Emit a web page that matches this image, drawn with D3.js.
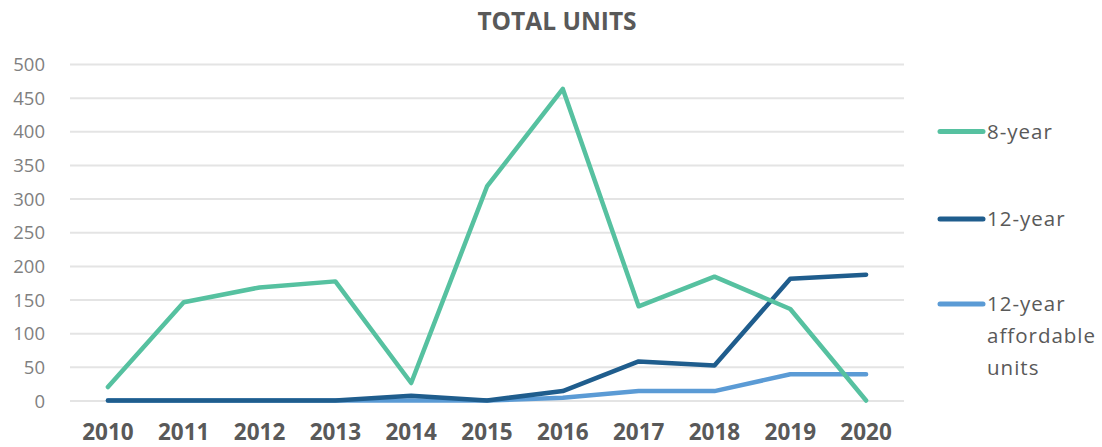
<!DOCTYPE html>
<html>
<head>
  <meta charset="utf-8">
  <title>Total units</title>
  <script src="https://cdn.jsdelivr.net/npm/d3@7"></script>
  <style>
    body { margin: 0; background: #fff; font-family: "Open Sans", sans-serif; }
    svg text { font-family: "Open Sans", sans-serif; }
    .grid line { stroke: #e4e4e4; stroke-width: 2px; }
    .grid path { display: none; }
    .axis path, .axis line { display: none; }
    .axis--y text { fill: #808080; font-size: 18.5px; }
    .axis--x text { fill: #595959; font-size: 22.5px; font-weight: 700; }
    .series { fill: none; stroke-width: 4.5px; stroke-linejoin: round; stroke-linecap: round; }
  </style>
</head>
<body>
<svg width="1102" height="447"></svg>
<script>

var years = ["2010", "2011", "2012", "2013", "2014", "2015", "2016", "2017", "2018", "2019", "2020"];
var eightYear = [20, 146, 168, 177, 26, 318, 463, 140, 184, 136, 0];
var twelveYear = [0, 0, 0, 0, 7, 0, 14, 58, 52, 181, 187];
var twelveYearAffordable = [0, 0, 0, 0, 0, 0, 4, 14, 14, 39, 39];
var yTicks = [0, 50, 100, 150, 200, 250, 300, 350, 400, 450, 500];

var seriesNames = ["8-year", "12-year", "12-year affordable units"];
var seriesColors = ["#56c1a0", "#1f5d8d", "#5b9bd5"];

var svg = d3.select("svg"),
    margin = {top: 64, right: 198, bottom: 46.5, left: 70},
    width = +svg.attr("width") - margin.left - margin.right,
    height = +svg.attr("height") - margin.top - margin.bottom;

var x = d3.scaleBand().domain(years).range([0, width]),
    y = d3.scaleLinear().domain([0, 500]).range([height, 0]);

var g = svg.append("g")
    .attr("transform", "translate(" + margin.left + "," + margin.top + ")");

svg.append("text")
    .attr("x", 557)
    .attr("y", 29.5)
    .attr("text-anchor", "middle")
    .attr("fill", "#595959")
    .style("font-size", "24.5px")
    .style("font-weight", "700")
    .text("TOTAL UNITS");

g.append("g")
    .attr("class", "grid")
    .call(d3.axisLeft(y).tickValues(yTicks).tickSize(-width).tickFormat(""));

g.append("g")
    .attr("class", "axis axis--y")
    .call(d3.axisLeft(y).tickValues(yTicks).tickSize(0).tickPadding(25))
  .selectAll("text")
    .attr("dy", "0.36em");

g.append("g")
    .attr("class", "axis axis--x")
    .attr("transform", "translate(0," + height + ")")
    .call(d3.axisBottom(x).tickSize(0).tickPadding(24));

var line = d3.line()
    .x(function(d, i) { return x(years[i]) + x.bandwidth() / 2; })
    .y(function(d) { return y(d); });

var allSeries = [eightYear, twelveYear, twelveYearAffordable];

// draw affordable first so darker lines sit on top, as in the original
[2, 1, 0].forEach(function(k) {
  g.append("path")
      .datum(allSeries[k])
      .attr("class", "series")
      .attr("stroke", seriesColors[k])
      .attr("d", line);
});

var legend = svg.append("g").attr("transform", "translate(940,0)");
var legendY = [131.5, 219, 304];
var legendLines = [["8-year"], ["12-year"], ["12-year", "affordable", "units"]];

legendLines.forEach(function(lines, k) {
  legend.append("line")
      .attr("x1", 0).attr("x2", 43)
      .attr("y1", legendY[k]).attr("y2", legendY[k])
      .attr("stroke", seriesColors[k])
      .attr("stroke-width", 5)
      .attr("stroke-linecap", "round");
  var t = legend.append("text")
      .attr("x", 47)
      .attr("y", legendY[k] + 7)
      .attr("fill", "#595959")
      .style("font-size", "20.5px")
      .style("letter-spacing", "1px");
  lines.forEach(function(s, j) {
    t.append("tspan").attr("x", 47).attr("dy", j === 0 ? 0 : 32).text(s);
  });
});

</script>
</body>
</html>
